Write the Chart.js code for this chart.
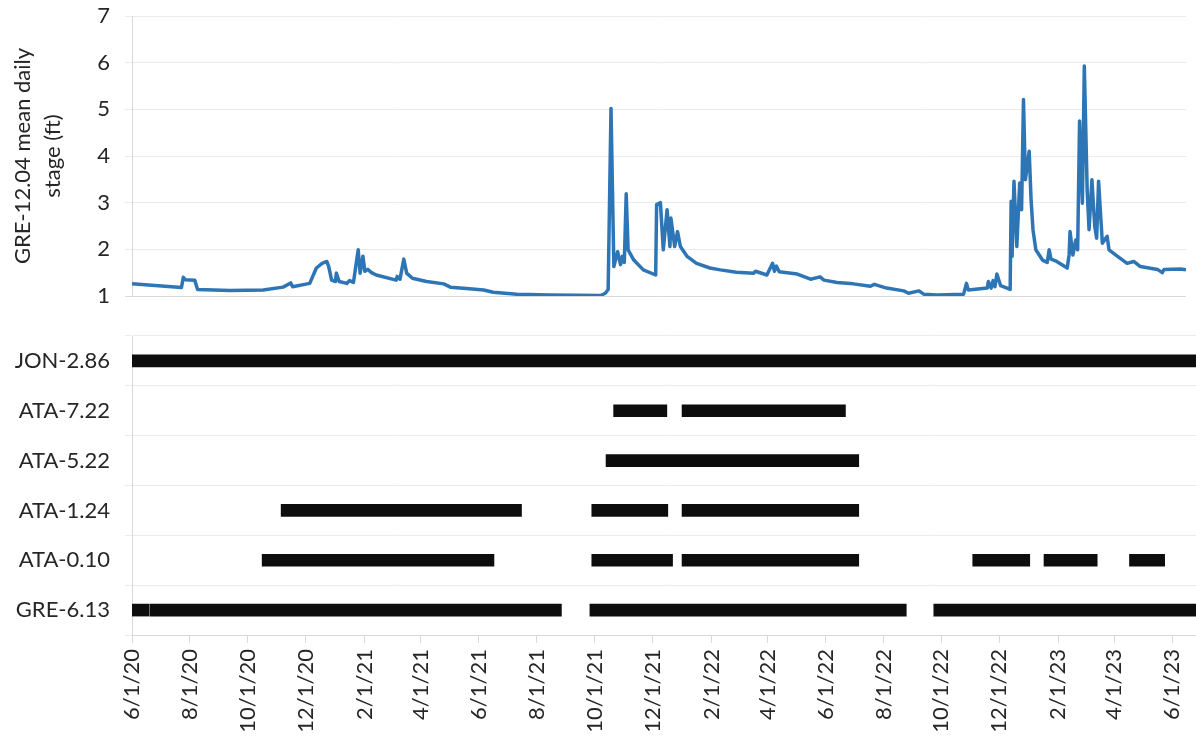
<!DOCTYPE html>
<html>
<head>
<meta charset="utf-8">
<script src="https://cdn.jsdelivr.net/npm/chart.js@4.4.1/dist/chart.umd.min.js"></script>
<style>
  html, body { margin: 0; padding: 0; background: #fff; overflow: hidden; }
  #wrap { position: relative; width: 1196px; height: 736px; }
  #stageCanvas { position: absolute; left: 0; top: 0; }
  #siteCanvas { position: absolute; left: 0; top: 320px; }
</style>
</head>
<body>
<div id="wrap">
  <canvas id="stageCanvas" width="1196" height="310"></canvas>
  <canvas id="siteCanvas" width="1196" height="416"></canvas>
</div>
<script>
// GRE-12.04 mean daily stage (ft)
const stageDates = [
  "6/1/20", "7/23/20", "7/25/20", "7/27/20", "8/6/20", "8/9/20", "9/12/20", "10/17/20",
  "11/7/20", "11/15/20", "11/17/20", "12/5/20", "12/12/20", "12/18/20", "12/23/20", "12/25/20",
  "12/28/20", "1/1/21", "1/2/21", "1/5/21", "1/13/21", "1/16/21", "1/20/21", "1/25/21",
  "1/27/21", "1/30/21", "2/1/21", "2/4/21", "2/8/21", "2/13/21", "3/6/21", "3/7/21",
  "3/10/21", "3/14/21", "3/17/21", "3/23/21", "4/7/21", "4/25/21", "5/2/21", "5/19/21",
  "6/6/21", "6/16/21", "7/11/21", "8/15/21", "10/7/21", "10/12/21", "10/15/21", "10/18/21",
  "10/21/21", "10/25/21", "10/28/21", "10/30/21", "11/1/21", "11/3/21", "11/5/21", "11/11/21",
  "11/21/21", "12/4/21", "12/5/21", "12/9/21", "12/12/21", "12/16/21", "12/19/21", "12/20/21",
  "12/24/21", "12/27/21", "12/30/21", "1/6/22", "1/16/22", "1/30/22", "2/10/22", "2/27/22",
  "3/17/22", "3/19/22", "3/31/22", "4/6/22", "4/8/22", "4/10/22", "4/13/22", "5/2/22",
  "5/16/22", "5/26/22", "5/30/22", "6/13/22", "6/30/22", "7/18/22", "7/22/22", "8/4/22",
  "8/22/22", "8/27/22", "9/7/22", "9/12/22", "9/26/22", "10/24/22", "10/27/22", "10/29/22",
  "11/18/22", "11/19/22", "11/22/22", "11/24/22", "11/26/22", "11/28/22", "12/2/22", "12/12/22",
  "12/13/22", "12/14/22", "12/16/22", "12/19/22", "12/22/22", "12/24/22", "12/26/22", "12/28/22",
  "1/1/23", "1/3/23", "1/5/23", "1/8/23", "1/15/23", "1/20/23", "1/22/23", "1/24/23",
  "1/30/23", "2/10/23", "2/12/23", "2/13/23", "2/16/23", "2/19/23", "2/21/23", "2/23/23",
  "2/26/23", "2/28/23", "3/3/23", "3/5/23", "3/8/23", "3/11/23", "3/13/23", "3/15/23",
  "3/19/23", "3/24/23", "3/26/23", "4/4/23", "4/14/23", "4/21/23", "4/28/23", "5/16/23",
  "5/21/23", "5/23/23", "6/9/23", "6/15/23"
];
const stageValues = [
  1.26, 1.18, 1.40, 1.35, 1.34, 1.14, 1.12, 1.13,
  1.19, 1.28, 1.20, 1.27, 1.60, 1.70, 1.74, 1.63,
  1.34, 1.31, 1.49, 1.31, 1.27, 1.33, 1.29, 1.99,
  1.49, 1.85, 1.53, 1.57, 1.50, 1.45, 1.34, 1.42,
  1.36, 1.79, 1.49, 1.38, 1.31, 1.26, 1.19, 1.16,
  1.13, 1.08, 1.04, 1.02, 1.01, 1.06, 1.14, 5.02,
  1.63, 1.95, 1.67, 1.85, 1.72, 3.19, 1.99, 1.77,
  1.56, 1.45, 2.96, 3.00, 1.99, 2.85, 2.06, 2.67,
  2.06, 2.38, 2.06, 1.85, 1.70, 1.60, 1.56, 1.51,
  1.49, 1.53, 1.45, 1.70, 1.53, 1.64, 1.52, 1.47,
  1.36, 1.41, 1.34, 1.29, 1.26, 1.21, 1.25, 1.17,
  1.11, 1.06, 1.11, 1.04, 1.02, 1.04, 1.27, 1.13,
  1.17, 1.31, 1.17, 1.33, 1.20, 1.47, 1.22, 1.14,
  3.03, 1.85, 3.46, 2.06, 3.42, 2.85, 5.21, 3.49,
  4.10, 3.06, 2.42, 1.99, 1.77, 1.72, 1.99, 1.79,
  1.74, 1.60, 1.88, 2.38, 1.88, 2.20, 1.99, 4.75,
  2.99, 5.93, 3.28, 2.42, 3.49, 2.49, 2.24, 3.46,
  2.13, 2.28, 1.99, 1.85, 1.70, 1.74, 1.63, 1.57,
  1.50, 1.57, 1.58, 1.56
];

// monitoring periods per site [start, end]
const siteNames = ["JON-2.86", "ATA-7.22", "ATA-5.22", "ATA-1.24", "ATA-0.10", "GRE-6.13"];
const jonSegments = [["6/1/20", "6/26/23"]];
const ata722Segments = [["10/21/21", "12/16/21"], ["1/1/22", "6/22/22"]];
const ata522Segments = [["10/13/21", "7/6/22"]];
const ata124Segments = [["11/5/20", "7/16/21"], ["9/28/21", "12/17/21"], ["1/1/22", "7/6/22"]];
const ata010Segments = [["10/16/20", "6/17/21"], ["9/28/21", "12/22/21"], ["1/1/22", "7/6/22"],
  ["11/3/22", "1/2/23"], ["1/17/23", "3/14/23"], ["4/17/23", "5/24/23"]];
const gre613Segments = [["6/1/20", "6/19/20"], ["6/20/20", "8/27/21"], ["9/26/21", "8/25/22"], ["9/23/22", "6/26/23"]];

// x axis ticks
const tickLabels = ["6/1/20", "8/1/20", "10/1/20", "12/1/20", "2/1/21", "4/1/21", "6/1/21", "8/1/21",
  "10/1/21", "12/1/21", "2/1/22", "4/1/22", "6/1/22", "8/1/22", "10/1/22", "12/1/22",
  "2/1/23", "4/1/23", "6/1/23"];
const stageStart = "6/1/20";
const stageEnd = "6/15/23";
const siteEnd = "6/26/23";

// "m/d/yy" -> day number
function toDay(s) {
  const [m, d, y] = s.split("/").map(Number);
  return Date.UTC(2000 + y, m - 1, d) / 86400000;
}

Chart.defaults.font.family = "Lato, 'Open Sans', sans-serif";
Chart.defaults.font.size = 22;
Chart.defaults.color = "#262626";

const textColor = "#262626";
const gridColor = "#ebebeb";
const axisColor = "#d9d9d9";

// fixed axis box so both plots share the same left edge
function fixYAxis(scale) {
  scale.width = 132;
  scale.paddingTop = 0;
  scale.paddingBottom = 0;
}

// top: stage line
new Chart(document.getElementById("stageCanvas").getContext("2d"), {
  type: "line",
  data: {
    datasets: [
      {
        data: stageDates.map((d, i) => ({ x: toDay(d), y: stageValues[i] })),
        borderColor: "#2E75B6",
        borderWidth: 3.5,
        pointRadius: 0,
        tension: 0,
        borderJoinStyle: "round",
      },
    ],
  },
  options: {
    responsive: false,
    animation: false,
    layout: { padding: { top: 16, right: 10, bottom: 14, left: 0 } },
    plugins: { legend: { display: false }, tooltip: { enabled: false } },
    scales: {
      x: {
        type: "linear",
        display: false,
        min: toDay(stageStart),
        max: toDay(stageEnd),
      },
      y: {
        min: 1,
        max: 7,
        afterFit: fixYAxis,
        ticks: { stepSize: 1, padding: 15, color: textColor, font: { size: 22 } },
        grid: {
          color: (ctx) => (ctx.tick && ctx.tick.value === 1 ? axisColor : gridColor),
          tickLength: 7,
        },
        border: { color: axisColor },
        title: {
          display: true,
          text: ["GRE-12.04 mean daily", "stage (ft)"],
          color: textColor,
          font: { size: 22, lineHeight: 1.35 },
          padding: { top: 8, bottom: 0 },
        },
      },
    },
  },
});

// bottom: monitoring periods
function segmentsToData(site, segments) {
  return segments.map(([s, e]) => ({ y: site, x: [toDay(s), toDay(e)] }));
}
const siteSegments = [jonSegments, ata722Segments, ata522Segments, ata124Segments, ata010Segments, gre613Segments];
const barData = siteNames.flatMap((name, i) => segmentsToData(name, siteSegments[i]));

new Chart(document.getElementById("siteCanvas").getContext("2d"), {
  type: "bar",
  data: {
    labels: siteNames,
    datasets: [
      {
        data: barData,
        backgroundColor: "#0d0d0d",
        barThickness: 12,
        borderSkipped: false,
      },
    ],
  },
  options: {
    indexAxis: "y",
    responsive: false,
    animation: false,
    layout: { padding: { top: 16, right: 0, bottom: 0, left: 0 } },
    plugins: { legend: { display: false }, tooltip: { enabled: false } },
    scales: {
      x: {
        type: "linear",
        min: toDay(stageStart),
        max: toDay(siteEnd),
        afterFit: (scale) => {
          scale.height = 101;
          scale.paddingLeft = 0;
          scale.paddingRight = 0;
        },
        afterBuildTicks: (scale) => {
          scale.ticks = tickLabels.map((t) => ({ value: toDay(t) }));
        },
        ticks: {
          autoSkip: false,
          minRotation: 90,
          maxRotation: 90,
          padding: 6,
          color: textColor,
          font: { size: 22 },
          callback: (value, index) => tickLabels[index],
        },
        grid: { drawOnChartArea: false, drawTicks: true, tickLength: 8, color: axisColor },
        border: { color: axisColor },
      },
      y: {
        afterFit: fixYAxis,
        ticks: { padding: 15, color: textColor, font: { size: 22 } },
        grid: { color: gridColor, tickLength: 7 },
        border: { color: axisColor },
      },
    },
  },
});
</script>
</body>
</html>
